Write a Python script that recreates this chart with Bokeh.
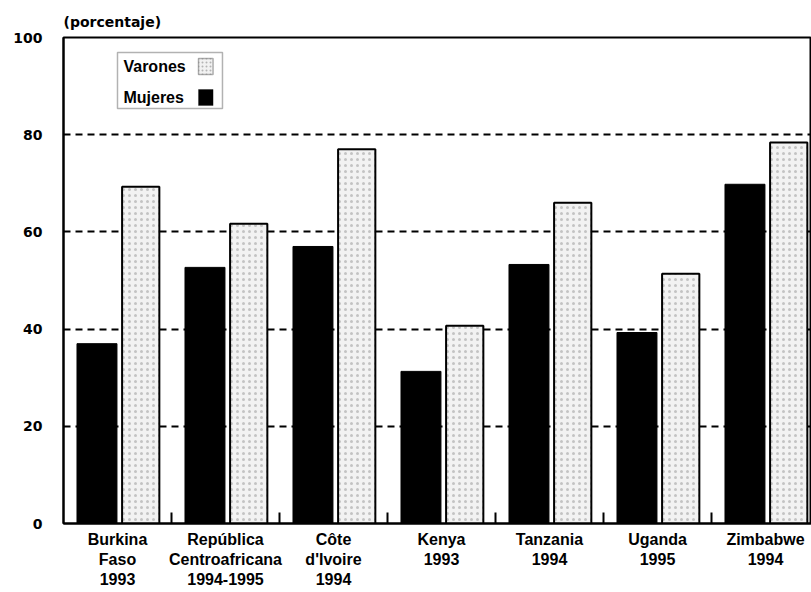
from bokeh.plotting import figure
from bokeh.models import (Range1d, FixedTicker, BoxAnnotation, Label, ColumnDataSource)
from bokeh.transform import dodge
from bokeh.embed import file_html
from bokeh.resources import INLINE

# ---- data ----
countries = ["Burkina\nFaso\n1993", "República\nCentroafricana\n1994-1995",
             "Côte\nd'Ivoire\n1994", "Kenya\n1993", "Tanzania\n1994",
             "Uganda\n1995", "Zimbabwe\n1994"]
mujeres = [37.0, 52.7, 57.0, 31.3, 53.3, 39.3, 69.8]
varones = [69.3, 61.7, 77.0, 40.7, 66.0, 51.4, 78.4]
y_ticks = [0, 20, 40, 60, 80, 100]
grid_lines = [20, 40, 60, 80]
title_text = "(porcentaje)"
legend_labels = ["Varones", "Mujeres"]

idx = list(range(len(countries)))
src = ColumnDataSource(dict(x=idx, m=mujeres, v=varones))

W, H = 811, 592
p = figure(width=W, height=H, output_backend="svg", toolbar_location=None,
           x_range=Range1d(0, 6.926), y_range=Range1d(0, 100),
           min_border_left=63, min_border_right=0, min_border_top=37,
           min_border_bottom=69)

p.title.text = title_text
p.title.text_font = "DejaVu Sans"
p.title.text_font_style = "bold"
p.title.text_font_size = "14px"
p.title.text_color = "black"
p.title.align = "left"
p.title.standoff = 16

# bars
p.vbar(x=dodge("x", 0.31, range=p.x_range), top="m", width=0.37, source=src,
       fill_color="black", line_color="black")
p.vbar(x=dodge("x", 0.715, range=p.x_range), top="v", width=0.345, source=src,
       fill_color="#f2f2f2", line_color="black", line_width=2,
       hatch_pattern="dot", hatch_color="#8a8a8a", hatch_scale=6,
       hatch_weight=1, hatch_alpha=0.45)

# axes
xa = p.xaxis[0]
xa.ticker = FixedTicker(ticks=[i + 0.5 for i in idx],
                        minor_ticks=[i for i in idx[1:]])
xa.major_label_overrides = {i + 0.5: c for i, c in zip(idx, countries)}
xa.major_tick_line_color = None
xa.major_tick_out = 0
xa.major_tick_in = 0
xa.minor_tick_in = 11
xa.minor_tick_out = 0
xa.minor_tick_line_width = 2
xa.minor_tick_line_color = "black"
xa.axis_line_width = 2
xa.axis_line_color = "black"
xa.major_label_text_font = "Liberation Sans"
xa.major_label_text_font_style = "bold"
xa.major_label_text_font_size = "16px"
xa.major_label_text_color = "black"
xa.major_label_standoff = 7
xa.major_label_text_line_height = 1.2

ya = p.yaxis[0]
ya.ticker = FixedTicker(ticks=y_ticks)
ya.major_tick_line_color = None
ya.major_tick_out = 0
ya.major_tick_in = 0
ya.minor_tick_line_color = None
ya.axis_line_width = 2
ya.axis_line_color = "black"
ya.major_label_text_font = "DejaVu Sans"
ya.major_label_text_font_style = "bold"
ya.major_label_text_font_size = "14px"
ya.major_label_text_color = "black"
ya.major_label_standoff = 21

p.xgrid.grid_line_color = None
p.ygrid.ticker = FixedTicker(ticks=grid_lines)
p.ygrid.grid_line_color = "black"
p.ygrid.grid_line_dash = "7 5"
p.ygrid.grid_line_width = 2

p.outline_line_color = "black"
p.outline_line_width = 2

# legend (manual, text left / swatch right)
p.add_layout(BoxAnnotation(left=0.5, right=1.472, top=96.9, bottom=85.4,
                           fill_color="white", fill_alpha=1,
                           line_color="black", line_width=1.5))
p.add_layout(BoxAnnotation(left=1.25, right=1.385, top=95.7, bottom=92.4,
                           fill_color="#f2f2f2", fill_alpha=1,
                           line_color="black", line_width=1.5,
                           hatch_pattern="dot", hatch_color="#8a8a8a",
                           hatch_scale=4, hatch_alpha=0.6))
p.add_layout(BoxAnnotation(left=1.25, right=1.385, top=89.3, bottom=86.0,
                           fill_color="black", fill_alpha=1,
                           line_color="black"))
for lab, yy in zip(legend_labels, [94.1, 87.6]):
    p.add_layout(Label(x=0.555, y=yy, text=lab, text_font="Liberation Sans",
                       text_font_style="bold", text_font_size="16px",
                       text_baseline="middle", text_color="black"))

open("out.html", "w").write(file_html(p, INLINE))
